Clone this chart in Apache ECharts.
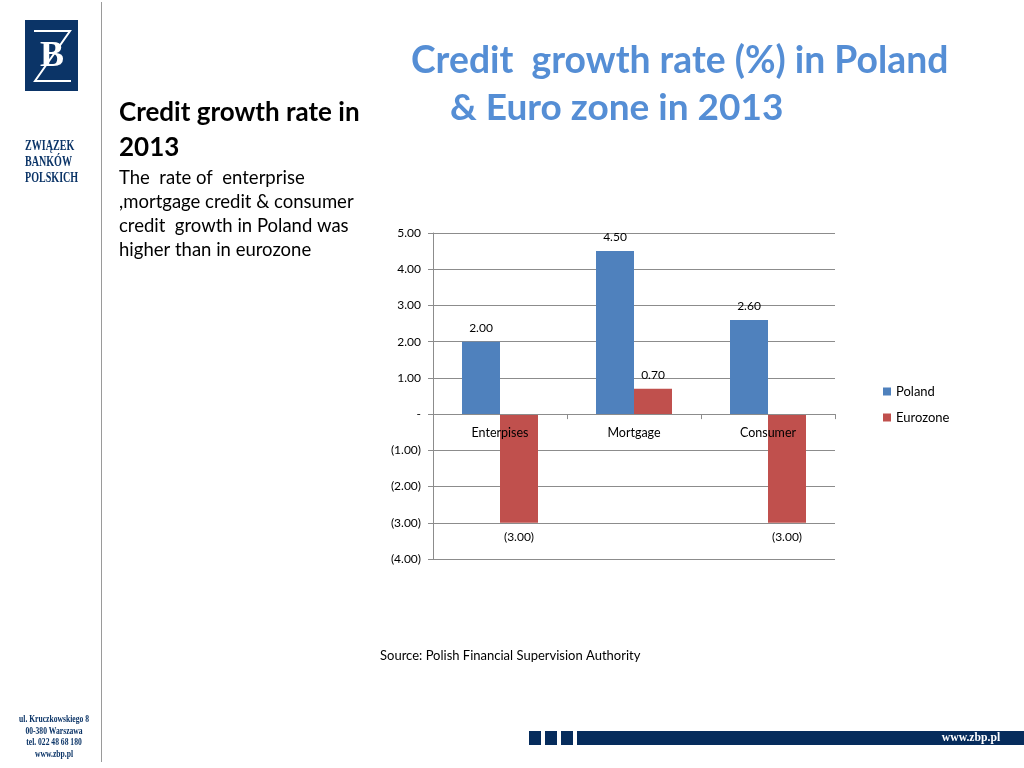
<!DOCTYPE html>
<html>
<head>
<meta charset="utf-8">
<style>
  html, body { margin: 0; padding: 0; background: #ffffff; }
  #chart { width: 1024px; height: 768px; }
</style>
<script src="https://cdn.jsdelivr.net/npm/echarts@6/dist/echarts.min.js"></script>
</head>
<body>
<div id="chart"></div>
<script>
const categories = ['Enterpises', 'Mortgage', 'Consumer'];
const polandValues = [2.00, 4.50, 2.60];
const eurozoneValues = [-3.00, 0.70, -3.00];
const seriesNames = ['Poland', 'Eurozone'];
const yMin = -4, yMax = 5, yStep = 1;
const titleLines = ['Credit  growth rate (%) in Poland', '& Euro zone in 2013'];
const sideHeading = ['Credit growth rate in', '2013'];
const sideBody = ['The  rate of  enterprise', ',mortgage credit & consumer', 'credit  growth in Poland was', 'higher than in eurozone'];
const sourceText = 'Source: Polish Financial Supervision Authority';
const logoLines = ['ZWIĄZEK', 'BANKÓW', 'POLSKICH'];
const addressLines = ['ul. Kruczkowskiego 8', '00-380 Warszawa', 'tel. 022 48 68 180', 'www.zbp.pl'];
const footerUrl = 'www.zbp.pl';

function fmt(v) {
  if (Math.abs(v) < 1e-9) return '-';
  if (v < 0) return '(' + Math.abs(v).toFixed(2) + ')';
  return v.toFixed(2);
}

const chart = echarts.init(document.getElementById('chart'));
const fontMain = 'Lato, "Open Sans", sans-serif';
const serif = '"Liberation Serif", "DejaVu Serif", serif';

const gridTop = 233, gridBottom = 209, gridH = 768 - gridTop - gridBottom;
// move category axis up to the zero line of the value axis
const xAxisOffset = -gridH * (0 - yMin) / (yMax - yMin);

function labelFor(v) {
  return { value: v, label: { position: v < 0 ? 'bottom' : 'top' } };
}

const graphics = [
  { type: 'line', shape: { x1: 101.5, y1: 2, x2: 101.5, y2: 762 }, style: { stroke: '#9a9a9a', lineWidth: 1 } },
  { type: 'rect', shape: { x: 25, y: 20, width: 53, height: 71 }, style: { fill: '#0b3467' } },
  { type: 'polyline', shape: { points: [[34, 31], [70, 31], [35, 81], [71, 81]] }, style: { stroke: '#ffffff', lineWidth: 2, fill: null } },
  { type: 'text', x: 52, y: 57, style: { text: 'B', font: 'bold 36px ' + serif, fill: '#ffffff', align: 'center', verticalAlign: 'middle' } },
  { type: 'text', x: 25, y: 138, scaleX: 0.72, style: { text: logoLines.join('\n'), font: 'bold 14px ' + serif, fill: '#0b3467', lineHeight: 16 } },
  { type: 'text', x: 54, y: 714, scaleX: 0.8, style: { text: addressLines.join('\n'), font: 'bold 9.5px ' + serif, fill: '#0b3467', lineHeight: 11.5, align: 'center' } },
  { type: 'rect', shape: { x: 529, y: 731, width: 12, height: 14 }, style: { fill: '#062c5c' } },
  { type: 'rect', shape: { x: 545, y: 731, width: 12, height: 14 }, style: { fill: '#062c5c' } },
  { type: 'rect', shape: { x: 561, y: 731, width: 12, height: 14 }, style: { fill: '#062c5c' } },
  { type: 'rect', shape: { x: 577, y: 731, width: 447, height: 14 }, style: { fill: '#062c5c' } },
  { type: 'text', x: 971, y: 738, scaleX: 0.9, style: { text: footerUrl, font: 'bold 13px ' + serif, fill: '#ffffff', align: 'center', verticalAlign: 'middle' } },
  { type: 'text', x: 411, y: 61, style: { text: titleLines[0], font: 'bold 37.3px ' + fontMain, fill: '#558ed5', verticalAlign: 'middle' } },
  { type: 'text', x: 450, y: 108, style: { text: titleLines[1], font: 'bold 37px ' + fontMain, fill: '#558ed5', verticalAlign: 'middle' } },
  { type: 'text', x: 119, y: 113, style: { text: sideHeading[0], font: 'bold 26px ' + fontMain, fill: '#000000', verticalAlign: 'middle' } },
  { type: 'text', x: 119, y: 148, style: { text: sideHeading[1], font: 'bold 26px ' + fontMain, fill: '#000000', verticalAlign: 'middle' } },
  { type: 'text', x: 119, y: 166, style: { text: sideBody.join('\n'), font: '18.5px ' + fontMain, fill: '#000000', lineHeight: 24 } },
  { type: 'text', x: 380, y: 656, style: { text: sourceText, font: '13px ' + fontMain, fill: '#000000', verticalAlign: 'middle' } }
];

chart.setOption({
  animation: false,
  backgroundColor: '#ffffff',
  grid: { left: 433, right: 189, top: gridTop, bottom: gridBottom, containLabel: false },
  legend: {
    orient: 'vertical', left: 878, top: 380, icon: 'rect', itemWidth: 8, itemHeight: 8, itemGap: 13,
    textStyle: { fontSize: 13, color: '#000000', fontFamily: fontMain },
    data: seriesNames
  },
  xAxis: {
    type: 'category', data: categories, offset: xAxisOffset, z: 5,
    axisLine: { onZero: false, lineStyle: { color: '#8c8c8c' } },
    axisTick: { show: true, length: 5, lineStyle: { color: '#8c8c8c' } },
    axisLabel: { color: '#000000', fontSize: 12.5, fontFamily: fontMain, margin: 12 },
    splitLine: { show: false }
  },
  yAxis: {
    type: 'value', min: yMin, max: yMax, interval: yStep,
    axisLine: { show: true, lineStyle: { color: '#8c8c8c' } },
    axisTick: { show: true, length: 5, inside: false, lineStyle: { color: '#8c8c8c' } },
    axisLabel: { color: '#000000', fontSize: 12, fontFamily: fontMain, margin: 12, formatter: fmt },
    splitLine: { show: true, lineStyle: { color: '#8c8c8c', width: 1 } }
  },
  series: [
    {
      name: seriesNames[0], type: 'bar', data: polandValues.map(labelFor),
      barWidth: 38, barGap: '0%', itemStyle: { color: '#4f81bd' },
      label: { show: true, color: '#000000', fontSize: 12, fontFamily: fontMain, distance: 8, formatter: p => fmt(p.value) }
    },
    {
      name: seriesNames[1], type: 'bar', data: eurozoneValues.map(labelFor),
      barWidth: 38, barGap: '0%', itemStyle: { color: '#c0504d' },
      label: { show: true, color: '#000000', fontSize: 12, fontFamily: fontMain, distance: 8, formatter: p => fmt(p.value) }
    }
  ],
  graphic: graphics
});
</script>
</body>
</html>
